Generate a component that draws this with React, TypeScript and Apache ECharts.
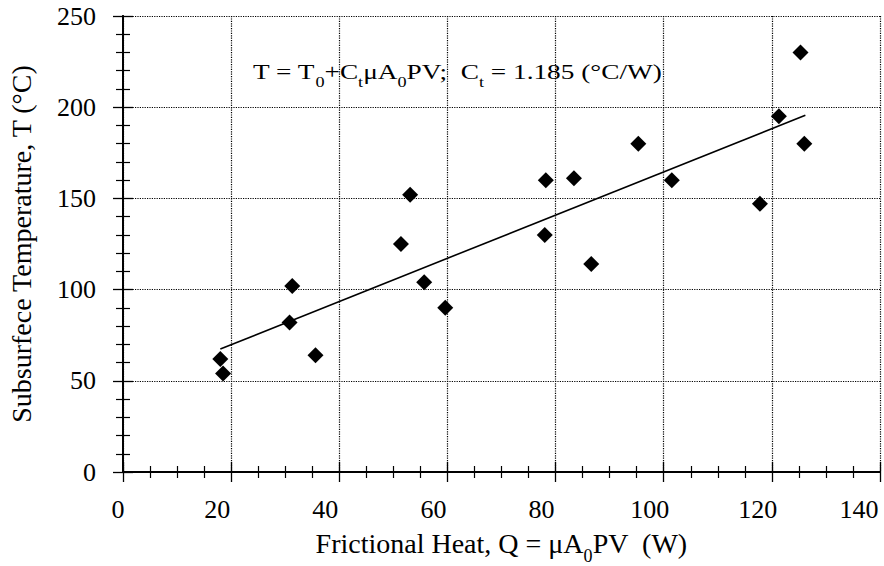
import React, { useEffect, useRef } from "react";
import * as echarts from "echarts";

// Measured points: frictional heat Q (W) vs subsurface temperature T (°C)
const heatQ = [18, 18.5, 31.3, 30.8, 35.6, 53.1, 51.4, 55.7, 59.6, 78.2, 83.4, 95.3, 101.5, 78, 86.6, 125.3, 121.3, 126, 117.8];
const tempT = [62, 54, 102, 82, 64, 152, 125, 104, 90, 160, 161, 180, 160, 130, 114, 230, 195, 180, 147];
// Fitted line end points
const fitQ = [18, 126.2];
const fitT = [67.4, 195.6];
// Axis ranges
const xRange = [0, 140, 20];
const yRange = [0, 250, 50];

const FONT = "Liberation Serif";

export default function App() {
  const ref = useRef<HTMLDivElement>(null);
  useEffect(() => {
    if (!ref.current) return;
    const chart = echarts.init(ref.current, null, { renderer: "svg" });
    const axisLine = { show: true, lineStyle: { color: "#000", width: 1.8 } };
    const axisTick = { show: true, inside: true, length: 10, lineStyle: { color: "#000", width: 1.3 } };
    const split = { show: true, lineStyle: { type: "dotted", color: "#000", width: 1.2 } };
    const label = { fontFamily: FONT, fontSize: 26, color: "#000" };
    const nameStyleBase = { fontFamily: FONT, fontSize: 28, color: "#000" };
    const richTitle = {
      n: { fontFamily: FONT, fontSize: 28, color: "#000", lineHeight: 44 },
      s: { fontFamily: FONT, fontSize: 18, color: "#000", lineHeight: 18, verticalAlign: "bottom" },
    };
    const richNote = {
      n: { fontFamily: FONT, fontSize: 21, color: "#000", lineHeight: 36 },
      s: { fontFamily: FONT, fontSize: 14, color: "#000", lineHeight: 14, verticalAlign: "bottom" },
    };
    const xLabelRich = {
      a: { fontFamily: FONT, fontSize: 26, color: "#000", padding: [0, 10, 0, 0] },
      c: { fontFamily: FONT, fontSize: 26, color: "#000", padding: [0, 28, 0, 0] },
      r: { fontFamily: FONT, fontSize: 26, color: "#000", padding: [0, 42, 0, 0] },
    };
    const option = {
      animation: false,
      backgroundColor: "#fff",
      grid: { left: 123, right: 4, top: 16, bottom: 94, containLabel: false, outerBoundsMode: "none" },
      xAxis: [
        {
          type: "value",
          min: xRange[0],
          max: xRange[1],
          interval: xRange[2],
          position: "bottom",
          axisLine,
          axisTick,
          minorTick: { show: true, splitNumber: 4, length: 6, lineStyle: { color: "#000", width: 1.2 } },
          splitLine: split,
          axisLabel: {
            ...label,
            margin: 24,
            formatter: (v: number) =>
              v === xRange[0] ? `{a|${v}}` : v === xRange[1] ? `{r|${v}}` : `{c|${v}}`,
            rich: xLabelRich,
          },
          name: "{n|Frictional Heat, Q = μA}{s|0}{n|PV  (W)}",
          nameLocation: "middle",
          nameGap: 49,
          nameTextStyle: { ...nameStyleBase, rich: richTitle },
        },
        {
          type: "value",
          min: xRange[0],
          max: xRange[1],
          interval: xRange[2],
          position: "top",
          axisLine,
          axisTick,
          minorTick: { show: true, splitNumber: 4, length: 6, lineStyle: { color: "#000", width: 1.2 } },
          splitLine: { show: false },
          axisLabel: { show: false },
        },
      ],
      yAxis: [
        {
          type: "value",
          min: yRange[0],
          max: yRange[1],
          interval: yRange[2],
          position: "left",
          axisLine,
          axisTick,
          minorTick: { show: true, splitNumber: 5, length: 7, lineStyle: { color: "#000", width: 1.2 } },
          splitLine: split,
          axisLabel: { ...label, margin: 27 },
          name: "Subsurfece Temperature, T (°C)",
          nameLocation: "middle",
          nameGap: 88,
          nameTextStyle: nameStyleBase,
        },
        {
          type: "value",
          min: yRange[0],
          max: yRange[1],
          interval: yRange[2],
          position: "right",
          axisLine,
          axisTick,
          minorTick: { show: true, splitNumber: 5, length: 7, lineStyle: { color: "#000", width: 1.2 } },
          splitLine: { show: false },
          axisLabel: { show: false },
        },
      ],
      graphic: [
        {
          type: "text",
          x: 253,
          y: 54,
          scaleX: 1.3,
          z: 10,
          style: {
            text: "{n|T = T}{s|0}{n|+C}{s|t}{n|μA}{s|0}{n|PV;  C}{s|t}{n| = 1.185 (°C/W)}",
            fill: "#000",
            fontFamily: FONT,
            fontSize: 21,
            rich: richNote,
          },
        },
      ],
      series: [
        {
          type: "line",
          data: fitQ.map((q, i) => [q, fitT[i]]),
          showSymbol: false,
          lineStyle: { color: "#000", width: 1.6 },
          silent: true,
        },
        {
          type: "scatter",
          data: heatQ.map((q, i) => [q, tempT[i]]),
          symbol: "diamond",
          symbolSize: 16,
          itemStyle: { color: "#000", opacity: 1 },
        },
      ],
    };
    chart.setOption(option as any);
    return () => chart.dispose();
  }, []);
  return (
    <div
      ref={ref}
      style={{ position: "fixed", left: 0, top: 0, width: 884, height: 566, background: "#fff" }}
    />
  );
}
